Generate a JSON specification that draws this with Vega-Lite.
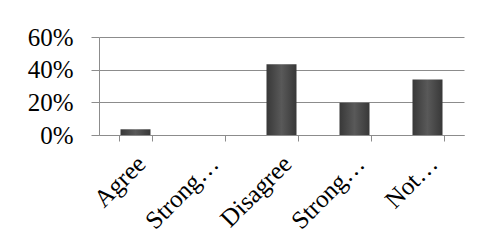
{
  "$schema": "https://vega.github.io/schema/vega-lite/v6.json",
  "autosize": "none",
  "width": 365,
  "height": 98,
  "padding": {"left": 99, "top": 37, "right": 18, "bottom": 116},
  "background": "white",
  "config": {
    "view": {"stroke": null},
    "font": "Liberation Serif"
  },
  "data": {
    "values": [
      {"response": "Agree", "pct": 0.035},
      {"response": "Strongly Agree", "pct": 0.0},
      {"response": "Disagree", "pct": 0.433},
      {"response": "Strongly Disagree", "pct": 0.198},
      {"response": "Not Sure", "pct": 0.34}
    ]
  },
  "mark": {
    "type": "bar",
    "width": 30,
    "fill": {
      "x1": 0, "y1": 0, "x2": 1, "y2": 0,
      "gradient": "linear",
      "stops": [
        {"offset": 0, "color": "#383838"},
        {"offset": 0.5, "color": "#595959"},
        {"offset": 1, "color": "#383838"}
      ]
    }
  },
  "encoding": {
    "x": {
      "field": "response",
      "type": "nominal",
      "sort": null,
      "title": null,
      "scale": {"paddingInner": 0.55, "paddingOuter": 0.275},
      "axis": {
        "labelAngle": -45,
        "labelAlign": "right",
        "labelBaseline": "top",
        "labelFontSize": 25,
        "labelColor": "#000000",
        "labelExpr": "datum.value == 'Strongly Agree' || datum.value == 'Strongly Disagree' ? 'Strong…' : datum.value == 'Not Sure' ? 'Not…' : datum.value",
        "domainColor": "#8c8c8c",
        "tickColor": "#8c8c8c",
        "tickSize": 6,
        "tickBand": "extent",
        "labelPadding": 10,
        "labelOffset": -3
      }
    },
    "y": {
      "field": "pct",
      "type": "quantitative",
      "title": null,
      "scale": {"domain": [0, 0.6]},
      "axis": {
        "values": [0, 0.2, 0.4, 0.6],
        "format": ".0%",
        "labelFontSize": 25,
        "labelColor": "#000000",
        "gridColor": "#8c8c8c",
        "domainColor": "#8c8c8c",
        "tickColor": "#8c8c8c",
        "tickSize": 8,
        "labelPadding": 18
      }
    }
  }
}
